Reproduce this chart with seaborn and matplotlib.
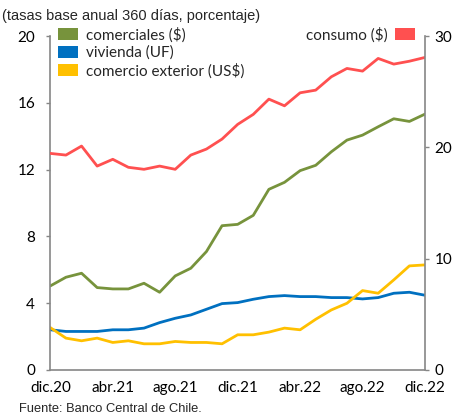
import numpy as np
import pandas as pd
import matplotlib
matplotlib.use("Agg")
import matplotlib.pyplot as plt
import seaborn as sns
from matplotlib.patches import Patch

# monthly data, dic.20 .. dic.22
months = list(range(25))
tick_pos = [0, 4, 8, 12, 16, 20, 24]
tick_labels = ["dic.20", "abr.21", "ago.21", "dic.21", "abr.22", "ago.22", "dic.22"]

comerciales = [5.03, 5.55, 5.79, 4.93, 4.85, 4.85, 5.19, 4.65, 5.63, 6.09, 7.09, 8.64,
               8.72, 9.26, 10.82, 11.24, 11.94, 12.26, 13.07, 13.77, 14.07, 14.57, 15.05, 14.89, 15.33]
vivienda = [2.40, 2.30, 2.30, 2.30, 2.40, 2.40, 2.50, 2.83, 3.09, 3.29, 3.63, 3.97,
            4.03, 4.23, 4.39, 4.45, 4.39, 4.39, 4.33, 4.33, 4.25, 4.33, 4.59, 4.65, 4.47]
comercio_ext = [2.53, 1.90, 1.74, 1.90, 1.64, 1.74, 1.56, 1.56, 1.70, 1.64, 1.64, 1.56,
                2.10, 2.10, 2.26, 2.50, 2.40, 3.03, 3.59, 3.99, 4.75, 4.59, 5.39, 6.23, 6.29]
consumo = [19.46, 19.31, 20.12, 18.32, 18.93, 18.21, 18.03, 18.32, 18.03, 19.31, 19.85, 20.75,
           22.07, 22.97, 24.34, 23.74, 24.91, 25.15, 26.35, 27.10, 26.86, 28.00, 27.49, 27.75, 28.09]

names = ["comerciales ($)", "vivienda (UF)", "comercio exterior (US$)"]
colors = ["#77933C", "#0070C0", "#FFC000"]
red = "#FF5050"

left_df = pd.DataFrame({
    "mes": months * 3,
    "tasa": comerciales + vivienda + comercio_ext,
    "serie": [names[0]] * 25 + [names[1]] * 25 + [names[2]] * 25,
})
right_df = pd.DataFrame({"mes": months, "tasa": consumo})

sns.set_style("white")
plt.rcParams["font.family"] = ["Lato", "DejaVu Sans"]

fig = plt.figure(figsize=(4.66, 4.16), dpi=100)
ax = fig.add_axes([0.108, 0.111, 0.804, 0.802])
ax2 = ax.twinx()

sns.lineplot(data=left_df, x="mes", y="tasa", hue="serie", palette=colors,
             linewidth=2.0, legend=False, ax=ax)
sns.lineplot(data=right_df, x="mes", y="tasa", color=red, linewidth=2.0, ax=ax2)

ax.set_xlim(0, 24)
ax.set_ylim(0, 20)
ax2.set_ylim(0, 30)
ax.set_yticks([0, 4, 8, 12, 16, 20])
ax2.set_yticks([0, 10, 20, 30])
ax.set_xticks(tick_pos)
ax.set_xticklabels(tick_labels)
ax.set_xlabel("")
ax.set_ylabel("")
ax2.set_ylabel("")

grey = "#868686"
for a in (ax, ax2):
    for s in a.spines.values():
        s.set_visible(False)
    a.tick_params(colors=grey, labelcolor="black", labelsize=11, length=3, width=1, direction="out")
ax.spines["left"].set_visible(True)
ax.spines["bottom"].set_visible(True)
ax2.spines["right"].set_visible(True)
for s in (ax.spines["left"], ax.spines["bottom"], ax2.spines["right"]):
    s.set_color(grey)
    s.set_linewidth(1.2)
ax.tick_params(axis="y", pad=8)
ax2.tick_params(axis="y", pad=4)
ax.tick_params(axis="x", pad=5)

handles = [Patch(facecolor=c, edgecolor="none") for c in colors]
ax.legend(handles, names, loc="upper left", bbox_to_anchor=(0.005, 1.045), frameon=False,
          fontsize=11, handlelength=1.3, handleheight=0.8, handletextpad=0.5,
          labelspacing=0.2, borderaxespad=0)
ax2.legend([Patch(facecolor=red, edgecolor="none")], ["consumo ($)"], loc="upper right",
           bbox_to_anchor=(0.99, 1.045), frameon=False, fontsize=11, markerfirst=False,
           handlelength=1.3, handleheight=0.8, handletextpad=0.5, borderaxespad=0)

fig.text(0.005, 0.962, "(tasas base anual 360 días, porcentaje)", fontsize=10.5,
         family="Liberation Sans", va="center")
fig.text(0.04, 0.016, "Fuente: Banco Central de Chile.", fontsize=9.3,
         family="Liberation Sans", va="center")

fig.savefig("out.png", dpi=100)
